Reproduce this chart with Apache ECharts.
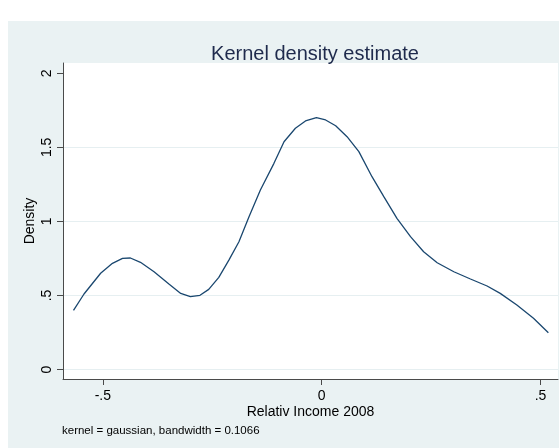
<!DOCTYPE html>
<html>
<head>
<meta charset="utf-8">
<script src="https://cdn.jsdelivr.net/npm/echarts@6/dist/echarts.min.js"></script>
<style>
  html, body { margin: 0; padding: 0; background: #ffffff; }
  #chart { width: 559px; height: 448px; }
</style>
</head>
<body>
<div id="chart"></div>
<script>
// Evaluation points of the kernel density estimate (relative income 2008)
const incomePoints = [
  -0.567, -0.543, -0.505, -0.478, -0.455, -0.437, -0.414, -0.383, -0.349, -0.322,
  -0.300, -0.278, -0.258, -0.235, -0.212, -0.189, -0.166, -0.140, -0.109, -0.086,
  -0.060, -0.037, -0.012, 0.009, 0.032, 0.058, 0.085, 0.115, 0.142, 0.172,
  0.203, 0.233, 0.264, 0.302, 0.340, 0.378, 0.408, 0.446, 0.484, 0.518
];
// Estimated density at each point
const densityValues = [
  0.400, 0.510, 0.650, 0.717, 0.750, 0.753, 0.724, 0.660, 0.577, 0.514,
  0.492, 0.501, 0.541, 0.622, 0.739, 0.863, 1.032, 1.212, 1.392, 1.538,
  1.629, 1.678, 1.700, 1.685, 1.646, 1.572, 1.471, 1.302, 1.167, 1.021,
  0.897, 0.795, 0.721, 0.660, 0.611, 0.564, 0.514, 0.435, 0.346, 0.248
];
// Axis ticks
const xTicks = [-0.5, 0, 0.5];
const yTicks = [0, 0.5, 1, 1.5, 2];
const yGrid = [0, 0.5, 1, 1.5];

const titleText = 'Kernel density estimate';
const xTitle = 'Relativ Income 2008';
const yTitle = 'Density';
const noteText = 'kernel = gaussian, bandwidth = 0.1066';

// Stata-style number labels: drop the leading zero (".5", "-.5")
function stataNum(v) {
  return String(v).replace(/^(-?)0\./, '$1.');
}

const FONT = '"Liberation Sans", Arial, Helvetica, sans-serif';
const AXIS_COLOR = '#4a4a4a';
const TEXT_COLOR = '#000000';
const PANEL = '#eaf2f3';

const chart = echarts.init(document.getElementById('chart'), null, { renderer: 'canvas' });

const option = {
  backgroundColor: '#ffffff',
  animation: false,
  textStyle: { fontFamily: FONT },
  graphic: [
    {
      type: 'rect', z: -10, silent: true,
      shape: { x: 8, y: 21, width: 551, height: 427 },
      style: { fill: PANEL }
    },
    {
      type: 'text', left: 62, top: 425, silent: true,
      style: { text: noteText, fontSize: 11.5, fontFamily: FONT, fill: TEXT_COLOR }
    }
  ],
  title: {
    text: titleText,
    left: 310,
    top: 39,
    textAlign: 'center',
    textStyle: { fontSize: 20, fontWeight: 'normal', color: '#1e2a4c', fontFamily: FONT }
  },
  grid: {
    left: 63, right: 1, top: 63, bottom: 69,
    show: true, backgroundColor: '#ffffff', borderWidth: 0
  },
  xAxis: {
    type: 'value',
    min: -0.591, max: 0.540,
    name: xTitle,
    nameLocation: 'middle',
    nameGap: 26,
    nameMoveOverlap: false,
    nameTextStyle: { fontSize: 14, color: TEXT_COLOR, fontFamily: FONT },
    axisLine: { show: true, onZero: false, lineStyle: { color: AXIS_COLOR, width: 1 } },
    axisTick: { show: true, length: 6, customValues: xTicks, lineStyle: { color: AXIS_COLOR } },
    axisLabel: { customValues: xTicks, fontSize: 14, color: TEXT_COLOR, margin: 10, formatter: stataNum },
    splitLine: { show: false }
  },
  yAxis: [
    {
      type: 'value',
      min: -0.064, max: 2.0695,
      name: yTitle,
      nameLocation: 'middle',
      nameGap: 26,
      nameMoveOverlap: false,
      nameTextStyle: { fontSize: 14, color: TEXT_COLOR, fontFamily: FONT },
      axisLine: { show: true, onZero: false, lineStyle: { color: AXIS_COLOR, width: 1 } },
      axisTick: { show: true, length: 6, customValues: yTicks, lineStyle: { color: AXIS_COLOR } },
      axisLabel: { customValues: yTicks, rotate: 90, fontSize: 14, color: TEXT_COLOR, margin: 9, formatter: stataNum },
      splitLine: { show: false }
    },
    {
      // grid lines only
      type: 'value',
      position: 'left',
      min: -0.064, max: 2.0695,
      axisLine: { show: false },
      axisTick: { show: false, customValues: yGrid },
      axisLabel: { show: false, customValues: yGrid },
      splitLine: { show: true, lineStyle: { color: '#e6eff1', width: 1 } }
    }
  ],
  series: [
    {
      type: 'line',
      data: incomePoints.map((x, i) => [x, densityValues[i]]),
      showSymbol: false,
      smooth: false,
      lineStyle: { color: '#1a476f', width: 1.3 },
      z: 5
    }
  ]
};

chart.setOption(option);
</script>
</body>
</html>
